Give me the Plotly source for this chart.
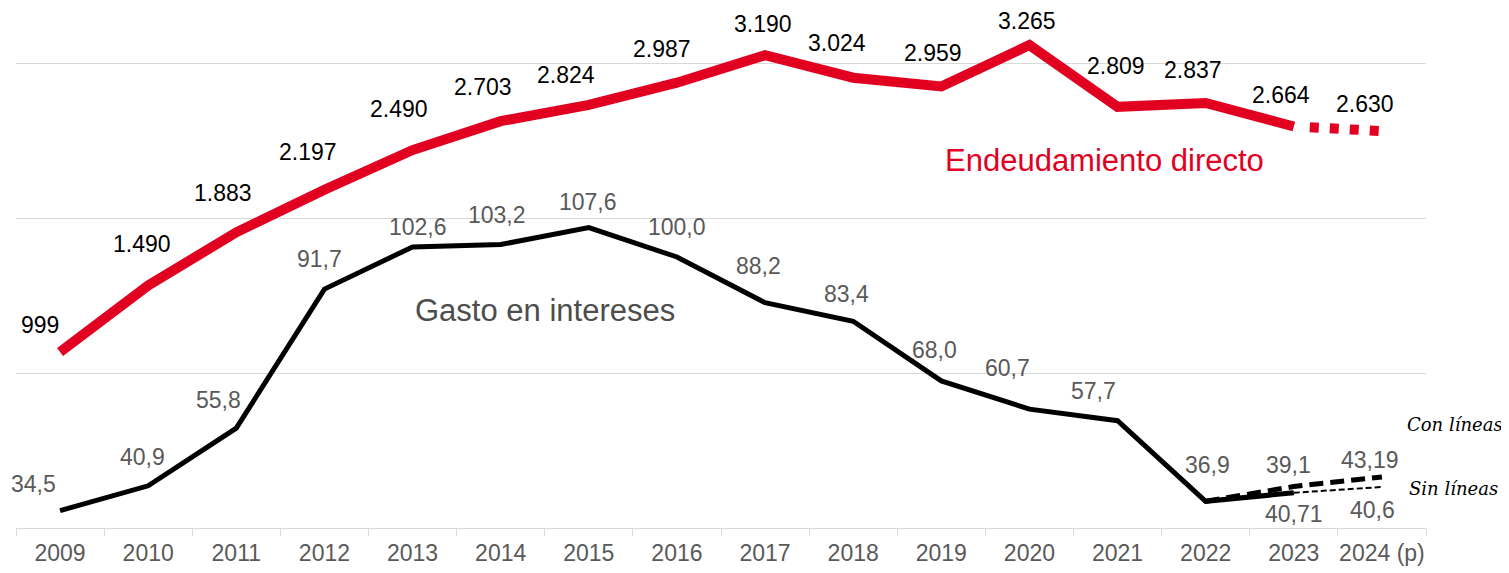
import plotly.graph_objects as go

years = ["2009", "2010", "2011", "2012", "2013", "2014", "2015", "2016",
         "2017", "2018", "2019", "2020", "2021", "2022", "2023", "2024 (p)"]

# Endeudamiento directo (millones)
deuda = [999, 1490, 1883, 2197, 2490, 2703, 2824, 2987,
         3190, 3024, 2959, 3265, 2809, 2837, 2664, 2630]
deuda_txt = ["999", "1.490", "1.883", "2.197", "2.490", "2.703", "2.824", "2.987",
             "3.190", "3.024", "2.959", "3.265", "2.809", "2.837", "2.664", "2.630"]

# Gasto en intereses (2009-2023)
intereses = [34.5, 40.9, 55.8, 91.7, 102.6, 103.2, 107.6, 100.0,
             88.2, 83.4, 68.0, 60.7, 57.7, 36.9, 39.1]
intereses_txt = ["34,5", "40,9", "55,8", "91,7", "102,6", "103,2", "107,6", "100,0",
                 "88,2", "83,4", "68,0", "60,7", "57,7", "36,9", "39,1"]

# proyecciones
con_lineas_x = ["2022", "2023", "2024 (p)"]
con_lineas = [36.9, 40.71, 43.19]
con_lineas_txt = ["", "40,71", "43,19"]
sin_lineas_x = ["2023", "2024 (p)"]
sin_lineas = [39.1, 40.6]
sin_lineas_txt = ["", "40,6"]

RED = "#E1001F"
GRAY = "#595959"
GRID = "#d9d9d9"

# label offsets (px) to sit like the original labels
deuda_dx = [-20, -6, -13, -16, -14, -18, -23, -15, -2, -16, -8, -2, -2, -13, -13, -17]
deuda_dy = [27, 42, 39, 38, 41, 34, 30, 34, 31, 35, 34, 24, 41, 33, 31, 27]
int_dx = [-27, -6, -18, -5, 5, -4, -1, 0, -7, -7, -7, -22, -24, 2, -5]
int_dy = [27, 29, 28, 30, 20, 30, 26, 30, 37, 27, 31, 41, 30, 36, 28]
con_dx = [0, 0, -12]
con_dy = [0, -27, 17]
sin_dx = [0, -9]
sin_dy = [0, -23]

fig = go.Figure()

fig.add_trace(go.Scatter(x=years[:len(intereses)], y=intereses, mode="lines",
                         line=dict(color="black", width=5), yaxis="y"))
fig.add_trace(go.Scatter(x=con_lineas_x, y=con_lineas, mode="lines",
                         line=dict(color="black", width=5, dash="14px,7px"), yaxis="y"))
fig.add_trace(go.Scatter(x=sin_lineas_x, y=sin_lineas, mode="lines",
                         line=dict(color="black", width=2, dash="6px,3px"), yaxis="y"))

fig.add_trace(go.Scatter(x=years[:-1], y=deuda[:-1], mode="lines",
                         line=dict(color=RED, width=10), yaxis="y2"))
fig.add_trace(go.Scatter(x=years[-2:], y=deuda[-2:], mode="lines",
                         line=dict(color=RED, width=10,
                                   dash="0px,16px,9px,11px,9px,11px,9px,11px,9px,200px"),
                         yaxis="y2"))

annotations = []
lab_font = dict(family="Liberation Sans, Arial", size=23)
pos = {y: i for i, y in enumerate(years)}
for x, v, t, dx, dy in zip(years, deuda, deuda_txt, deuda_dx, deuda_dy):
    annotations.append(dict(x=pos[x], y=v, yref="y2", text=t, showarrow=False,
                            xshift=dx, yshift=dy, font=dict(lab_font, color="black")))
for x, v, t, dx, dy in zip(years, intereses, intereses_txt, int_dx, int_dy):
    annotations.append(dict(x=pos[x], y=v, yref="y", text=t, showarrow=False,
                            xshift=dx, yshift=dy, font=dict(lab_font, color=GRAY)))
for x, v, t, dx, dy in zip(con_lineas_x + sin_lineas_x, con_lineas + sin_lineas,
                           con_lineas_txt + sin_lineas_txt, con_dx + sin_dx, con_dy + sin_dy):
    if t:
        annotations.append(dict(x=pos[x], y=v, yref="y", text=t, showarrow=False,
                                xshift=dx, yshift=dy, font=dict(lab_font, color=GRAY)))

annotations += [
    dict(xref="paper", yref="paper", x=0.3755, y=0.428, xanchor="center", yanchor="middle",
         text="Gasto en intereses", showarrow=False,
         font=dict(family="Liberation Sans, Arial", size=31, color="#4d4d4d")),
    dict(xref="paper", yref="paper", x=0.772, y=0.724, xanchor="center", yanchor="middle",
         text="Endeudamiento directo", showarrow=False,
         font=dict(family="Liberation Sans, Arial", size=31, color=RED)),
    dict(xref="paper", yref="paper", x=1.0, y=0.203, xanchor="right", yanchor="middle",
         xshift=79, text="<i>Con líneas</i>", showarrow=False,
         font=dict(family="DejaVu Serif", size=18, color="black")),
    dict(xref="paper", yref="paper", x=1.0, y=0.077, xanchor="right", yanchor="middle",
         xshift=74, text="<i>Sin líneas</i>", showarrow=False,
         font=dict(family="DejaVu Serif", size=18, color="black")),
]

fig.update_layout(
    width=1509, height=573,
    # page body adds 8px, so margins are offset to keep the plot area in place
    margin=dict(l=8, r=91, t=12, b=53, autoexpand=False),
    paper_bgcolor="white", plot_bgcolor="white",
    showlegend=False,
    annotations=annotations,
    xaxis=dict(type="category", categoryorder="array", categoryarray=years,
               range=[-0.5, len(years) - 0.5], tickangle=0,
               showline=True, linecolor=GRID, linewidth=1,
               ticks="outside", tickson="boundaries", ticklen=7, tickcolor=GRID,
               showgrid=False, ticklabelstandoff=4,
               tickfont=dict(family="Liberation Sans, Arial", size=23, color=GRAY)),
    yaxis=dict(range=[30, 161.2], tick0=30, dtick=40, showticklabels=False,
               gridcolor=GRID, gridwidth=1, zeroline=False),
    yaxis2=dict(range=[-300, 3450], overlaying="y", visible=False),
)

fig.write_html("out.html")
